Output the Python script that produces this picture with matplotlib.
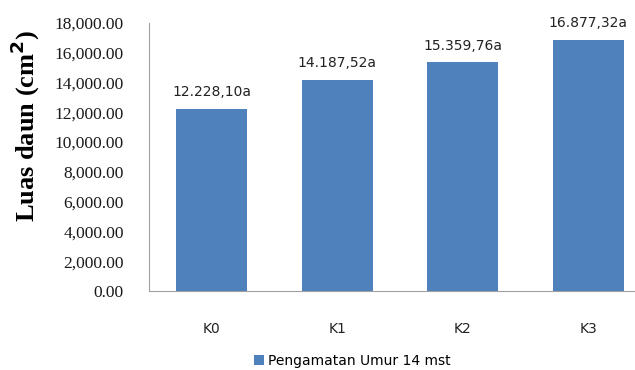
import matplotlib.pyplot as plt
from matplotlib.ticker import FuncFormatter

categories = ["K0", "K1", "K2", "K3"]
values = [12228.10, 14187.52, 15359.76, 16877.32]
value_labels = ["12.228,10a", "14.187,52a", "15.359,76a", "16.877,32a"]
series_name = "Pengamatan Umur 14 mst"
y_ticks = [0, 2000, 4000, 6000, 8000, 10000, 12000, 14000, 16000, 18000]

bar_color = "#4F81BD"

fig = plt.figure(figsize=(6.35, 3.70), dpi=100)
# axes runs a little past the right edge, like the cropped original
ax = fig.add_axes([149 / 635, 1 - 291 / 370, 502 / 635, 268 / 370])

bars = ax.bar(range(len(categories)), values, width=0.566, color=bar_color,
              label=series_name, zorder=2)

for i, (v, lab) in enumerate(zip(values, value_labels)):
    ax.text(i, v + 650, lab, ha="center", va="bottom", fontsize=10,
            family="DejaVu Sans", color="#222222")

ax.set_xlim(-0.5, 3.5)
ax.set_ylim(0, 18000)
ax.set_yticks(y_ticks)
ax.yaxis.set_major_formatter(FuncFormatter(lambda v, p: "{:,.2f}".format(v)))
for t in ax.get_yticklabels():
    t.set_family("Liberation Serif")
    t.set_fontsize(12.5)
    t.set_color("#1a1a1a")
ax.tick_params(axis="y", length=0, pad=18)
ax.set_xticks(range(len(categories)))
ax.set_xticklabels(categories, fontsize=10, color="#222222")
ax.tick_params(axis="x", length=0, pad=22)

for side in ["top", "right"]:
    ax.spines[side].set_visible(False)
ax.spines["left"].set_color("#A0A0A0")
ax.spines["bottom"].set_color("#A0A0A0")

ax.set_ylabel("Luas daun (cm$^{\\mathbf{2}}$)", family="Liberation Serif", fontweight="bold",
              fontsize=19)
ax.yaxis.set_label_coords(-0.213, 0.616)

fig.legend(handles=[bars], labels=[series_name], loc="center",
           bbox_to_anchor=(0.555, 1 - 361 / 370), frameon=False, fontsize=10,
           handlelength=0.7, handleheight=0.7, handletextpad=0.3)

fig.savefig("out.png", dpi=100)
